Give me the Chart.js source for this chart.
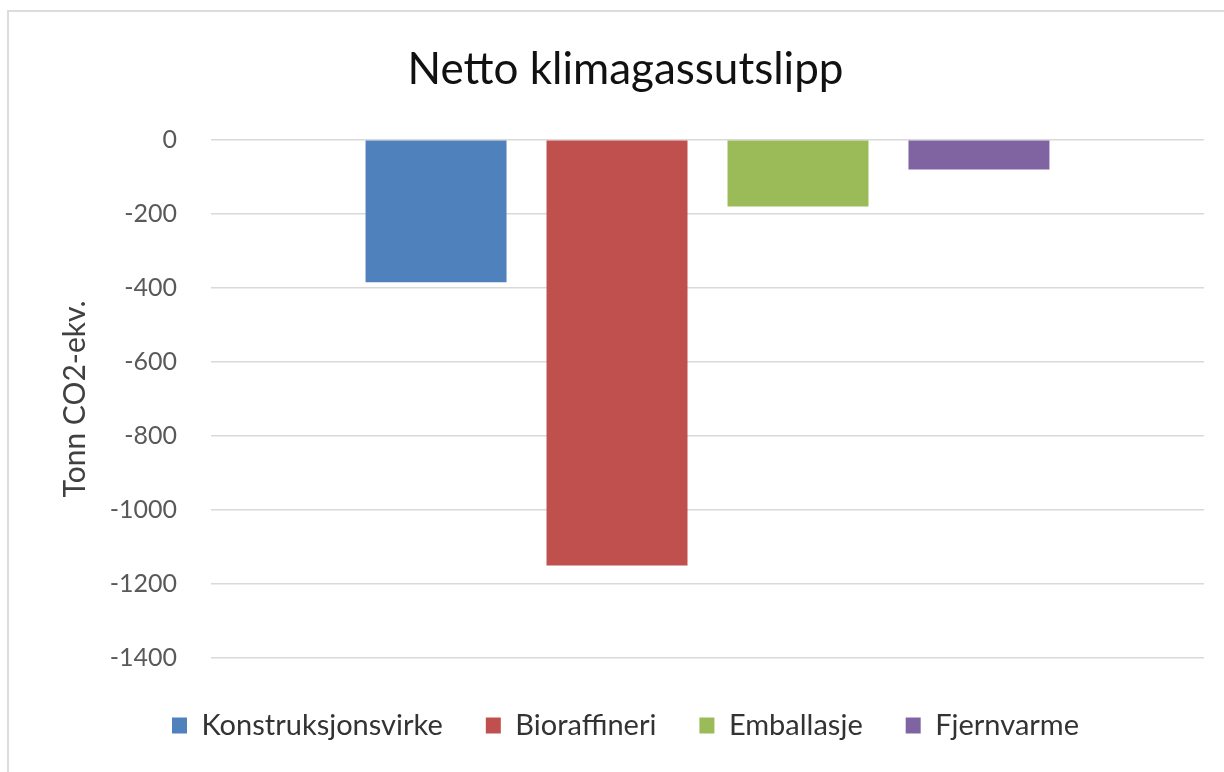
<!DOCTYPE html>
<html><head><meta charset="utf-8">
<script src="https://cdn.jsdelivr.net/npm/chart.js@4"></script>
<style>
html,body{margin:0;padding:0;background:#fff;overflow:hidden}
#frame{position:absolute;left:7px;top:10px;width:1300px;height:900px;border:2px solid #dcdcdc;box-sizing:border-box}
#wrap{position:absolute;left:0;top:0;width:1224px;height:772px}
</style></head><body>
<div id="frame"></div>
<div id="wrap"><canvas id="c"></canvas></div>
<script>
const chartTitle = 'Netto klimagassutslipp';
const yAxisTitle = 'Tonn CO2-ekv.';
const categories = [''];
const seriesNames = ['Konstruksjonsvirke', 'Bioraffineri', 'Emballasje', 'Fjernvarme'];
const konstruksjonsvirke = [-385];
const bioraffineri = [-1150];
const emballasje = [-180];
const fjernvarme = [-80];
const yMin = -1400, yMax = 0, yStep = 200;
const seriesColors = ['#4F81BD', '#C0504D', '#9BBB59', '#8064A2'];

const seriesValues = [konstruksjonsvirke, bioraffineri, emballasje, fjernvarme];
const FONT = 'Lato';

new Chart(document.getElementById('c'), {
  type: 'bar',
  data: {
    labels: categories,
    datasets: seriesNames.map((name, i) => ({
      label: name,
      data: seriesValues[i],
      backgroundColor: seriesColors[i],
      borderWidth: 0,
      categoryPercentage: 0.729,
      barPercentage: 0.779
    }))
  },
  options: {
    responsive: true,
    maintainAspectRatio: false,
    animation: false,
    devicePixelRatio: 1,
    layout: { padding: { left: 47, right: 20, top: 10, bottom: 22 } },
    plugins: {
      title: {
        display: true,
        text: chartTitle,
        color: '#111111',
        font: { family: FONT, size: 44, weight: 'normal' },
        padding: { top: 33, bottom: 44 }
      },
      legend: {
        position: 'bottom',
        labels: {
          color: '#333333',
          font: { family: FONT, size: 29 },
          boxWidth: 15,
          boxHeight: 16,
          padding: 43
        }
      },
      tooltip: { enabled: false }
    },
    scales: {
      x: {
        display: true,
        ticks: { display: false },
        grid: { display: false },
        border: { display: false },
        afterFit: s => { s.height = 10; }
      },
      y: {
        min: yMin,
        max: yMax,
        ticks: {
          stepSize: yStep,
          color: '#595959',
          font: { family: FONT, size: 25 },
          padding: 34,
          callback: v => String(v)
        },
        grid: { color: '#d9d9d9', lineWidth: 1.5, drawTicks: false },
        border: { display: false },
        title: {
          display: true,
          text: yAxisTitle,
          color: '#404040',
          font: { family: FONT, size: 30 },
          padding: { top: 10, bottom: 0 }
        },
        afterFit: s => { s.width = 164; }
      }
    }
  }
});
</script>
</body></html>
